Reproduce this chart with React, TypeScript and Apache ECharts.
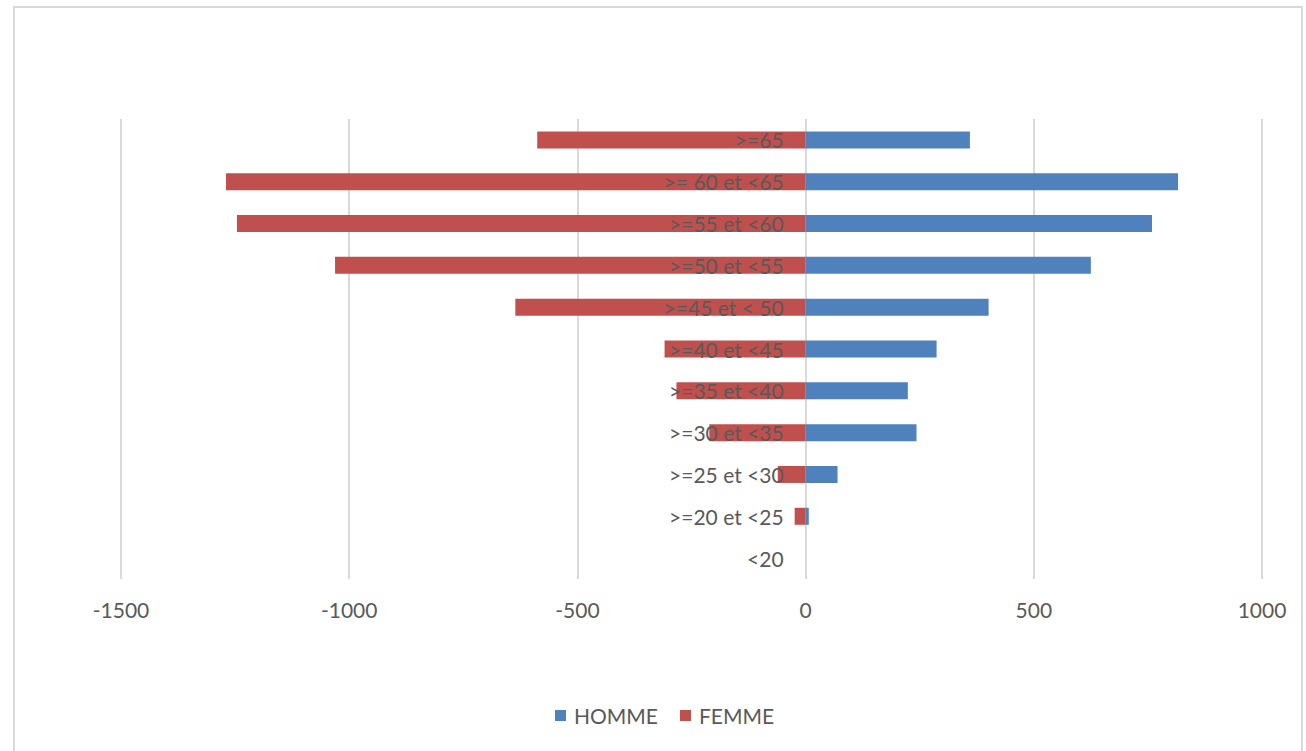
import React, { useEffect, useRef } from "react";
import * as echarts from "echarts";

const categories = [
  "<20",
  ">=20 et <25",
  ">=25 et <30",
  ">=30 et <35",
  ">=35 et <40",
  ">=40 et <45",
  ">=45 et < 50",
  ">=50 et <55",
  ">=55 et <60",
  ">= 60 et <65",
  ">=65",
];
const homme = [0, 7, 70, 243, 224, 287, 401, 625, 759, 816, 360];
const femme = [0, -24, -61, -211, -283, -309, -636, -1031, -1246, -1270, -588];
const xTicks = { min: -1500, max: 1000, interval: 500 };

export default function App() {
  const ref = useRef<HTMLDivElement>(null);
  useEffect(() => {
    document.body.style.margin = "0";
    const chart = echarts.init(ref.current!, null, { renderer: "svg" });
    const font = "Lato, 'Open Sans', sans-serif";
    const gridLeft = 121;
    const gridRight = 44;
    const plotWidth = 1306 - gridLeft - gridRight;
    const zeroOffset =
      (plotWidth * (0 - xTicks.min)) / (xTicks.max - xTicks.min);
    chart.setOption({
      animation: false,
      backgroundColor: "#ffffff",
      textStyle: { fontFamily: font },
      graphic: [
        {
          type: "rect",
          shape: { x: 14, y: 7, width: 1288, height: 770 },
          style: { fill: "none", stroke: "#d9d9d9", lineWidth: 2 },
          silent: true,
        },
      ],
      grid: {
        left: gridLeft,
        right: gridRight,
        top: 119,
        bottom: 172,
        containLabel: false,
        outerBoundsMode: "none",
      },
      legend: {
        bottom: 20,
        left: 550,
        itemWidth: 11,
        itemHeight: 11,
        itemGap: 22,
        icon: "rect",
        textStyle: { color: "#595959", fontSize: 21, fontFamily: font, padding: [0, 0, 0, 3] },
        data: ["HOMME", "FEMME"],
      },
      xAxis: {
        type: "value",
        min: xTicks.min,
        max: xTicks.max,
        interval: xTicks.interval,
        axisLine: { show: false },
        axisTick: { show: false },
        axisLabel: {
          color: "#595959",
          fontSize: 21,
          margin: 20,
          fontFamily: font,
          formatter: (v: number) => String(v),
        },
        splitLine: { lineStyle: { color: "#d9d9d9", width: 2 } },
      },
      yAxis: {
        type: "category",
        data: categories,
        z: 10,
        position: "left",
        offset: -zeroOffset,
        axisLine: { show: false, onZero: false },
        axisTick: { show: false },
        splitLine: { show: false },
        axisLabel: { color: "#595959", fontSize: 21, margin: 22, fontFamily: font },
      },
      series: [
        {
          name: "HOMME",
          type: "bar",
          data: homme,
          barWidth: 17,
          barGap: "-100%",
          itemStyle: { color: "#4f81bd" },
        },
        {
          name: "FEMME",
          type: "bar",
          data: femme,
          barWidth: 17,
          barGap: "-100%",
          itemStyle: { color: "#c0504d" },
        },
      ],
    });
    return () => chart.dispose();
  }, []);
  return (
    <div
      ref={ref}
      style={{ position: "fixed", left: 0, top: 0, width: 1306, height: 751 }}
    />
  );
}
